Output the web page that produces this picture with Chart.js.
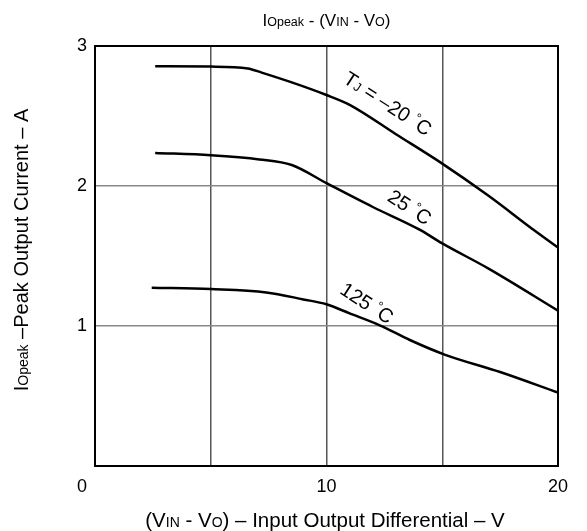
<!DOCTYPE html>
<html lang="en">
<head>
  <meta charset="UTF-8">
  <title>IOpeak - (VIN - VO)</title>
  <script src="https://cdn.jsdelivr.net/npm/chart.js"></script>
  <style>
    body { margin: 0; background: #fff; }
    .chart-box { position: relative; width: 587px; height: 531px; }
  </style>
</head>
<body>
  <div class="chart-box">
    <canvas id="peakChart"></canvas>
  </div>
  <script>
    // --- data ---
    // Tj = -20 C
    const xCold = [2.6, 5, 6.6, 7.2, 8.5, 10, 11, 13, 15, 17, 19, 20];
    const yCold = [2.855, 2.853, 2.84, 2.81, 2.74, 2.65, 2.58, 2.37, 2.16, 1.93, 1.68, 1.56];
    // Tj = 25 C
    const xRoom = [2.6, 5, 7.1, 8.5, 10, 12, 14, 15, 17, 20];
    const yRoom = [2.236, 2.22, 2.19, 2.15, 2.02, 1.85, 1.69, 1.59, 1.41, 1.11];
    // Tj = 125 C
    const xHot = [2.45, 5, 7.4, 9, 10, 11, 12.3, 13.6, 15.1, 17.5, 20];
    const yHot = [1.274, 1.264, 1.24, 1.19, 1.155, 1.09, 1.005, 0.9, 0.796, 0.671, 0.524];

    const xTicks = [0, 10, 20];
    const yTicks = [1, 2, 3];

    const FONT = '"Liberation Sans", Arial, sans-serif';

    const toPoints = (xs, ys) => xs.map((x, i) => ({ x: x, y: ys[i] }));

    // draws a run of text pieces (big text + small "subscript" pieces) on one baseline
    function drawParts(ctx, parts, x, y) {
      let total = 0;
      parts.forEach(p => {
        ctx.font = p[1] + 'px ' + FONT;
        total += ctx.measureText(p[0]).width;
      });
      let cx = x - total / 2;
      parts.forEach(p => {
        ctx.font = p[1] + 'px ' + FONT;
        ctx.fillText(p[0], cx, y - (p[2] || 0));
        cx += ctx.measureText(p[0]).width;
      });
    }

    // curve labels: [parts, x, y] in data units
    const curveLabels = [
      [[['T', 20], ['J', 13], [' = \u201320 ', 20], ['\u00b0', 13, 7], ['C', 20]], 12.65, 2.59],
      [[['25 ', 20], ['\u00b0', 13, 7], ['C', 20]], 13.6, 1.85],
      [[['125 ', 20], ['\u00b0', 13, 7], ['C', 20]], 11.75, 1.165]
    ];

    const textPlugin = {
      id: 'textPlugin',
      afterDraw(chart) {
        const ctx = chart.ctx;
        const area = chart.chartArea;
        const xs = chart.scales.x;
        const ys = chart.scales.y;
        ctx.save();
        // frame
        ctx.strokeStyle = '#000';
        ctx.lineWidth = 2;
        ctx.strokeRect(area.left, area.top, area.right - area.left, area.bottom - area.top);

        ctx.fillStyle = '#000';
        ctx.textBaseline = 'alphabetic';
        // the "0" sits a little left of the corner
        ctx.font = '18px ' + FONT;
        ctx.textAlign = 'center';
        ctx.fillText('0', xs.getPixelForValue(0) - 13, 492);
        ctx.textAlign = 'left';

        // title
        drawParts(ctx, [['I', 17], ['Opeak', 12.5], [' - (V', 17], ['IN', 12.5], [' - V', 17], ['O', 12.5], [')', 17]],
          (area.left + area.right) / 2, 26);
        // x axis title
        drawParts(ctx, [['(V', 20.5], ['IN', 14], [' - V', 20.5], ['O', 14], [') \u2013 Input Output Differential \u2013 V', 20.5]],
          325, 527);
        // y axis title
        ctx.save();
        ctx.translate(28, 250);
        ctx.rotate(-Math.PI / 2);
        drawParts(ctx, [['I', 20], ['Opeak', 14], [' \u2013Peak Output Current \u2013 A', 20]], 0, 0);
        ctx.restore();

        // labels along curves
        curveLabels.forEach(l => {
          ctx.save();
          ctx.translate(xs.getPixelForValue(l[1]), ys.getPixelForValue(l[2]));
          ctx.rotate(33 * Math.PI / 180);
          drawParts(ctx, l[0], 0, 7);
          ctx.restore();
        });
        ctx.restore();
      }
    };

    const lineStyle = {
      borderColor: '#000',
      borderWidth: 2.5,
      pointRadius: 0,
      fill: false,
      cubicInterpolationMode: 'monotone'
    };

    const ctxPeak = document.getElementById('peakChart').getContext('2d');
    const peakChart = new Chart(ctxPeak, {
      type: 'line',
      data: {
        datasets: [
          Object.assign({ label: 'TJ = -20 C', data: toPoints(xCold, yCold) }, lineStyle),
          Object.assign({ label: '25 C', data: toPoints(xRoom, yRoom) }, lineStyle),
          Object.assign({ label: '125 C', data: toPoints(xHot, yHot) }, lineStyle)
        ]
      },
      options: {
        responsive: true,
        maintainAspectRatio: false,
        animation: false,
        layout: { padding: { top: 46, right: 29, left: 0, bottom: 0 } },
        plugins: {
          legend: { display: false },
          tooltip: { enabled: false }
        },
        scales: {
          x: {
            type: 'linear',
            min: 0,
            max: 20,
            afterFit: s => { s.height = 65; },
            grid: { color: '#555', lineWidth: 1.5, drawTicks: false },
            border: { color: '#000', width: 2 },
            ticks: {
              stepSize: 5,
              padding: 10,
              color: '#000',
              font: { family: FONT, size: 18 },
              maxRotation: 0,
              callback: v => (xTicks.includes(v) && v !== 0 ? String(v) : '')
            }
          },
          y: {
            min: 0,
            max: 3,
            afterFit: s => { s.width = 95; },
            grid: { color: '#888', lineWidth: 1.5, drawTicks: false },
            border: { color: '#000', width: 2 },
            ticks: {
              stepSize: 1,
              padding: 8,
              color: '#000',
              font: { family: FONT, size: 18 },
              callback: v => (yTicks.includes(v) ? String(v) : '')
            }
          }
        }
      },
      plugins: [textPlugin]
    });
  </script>
</body>
</html>
